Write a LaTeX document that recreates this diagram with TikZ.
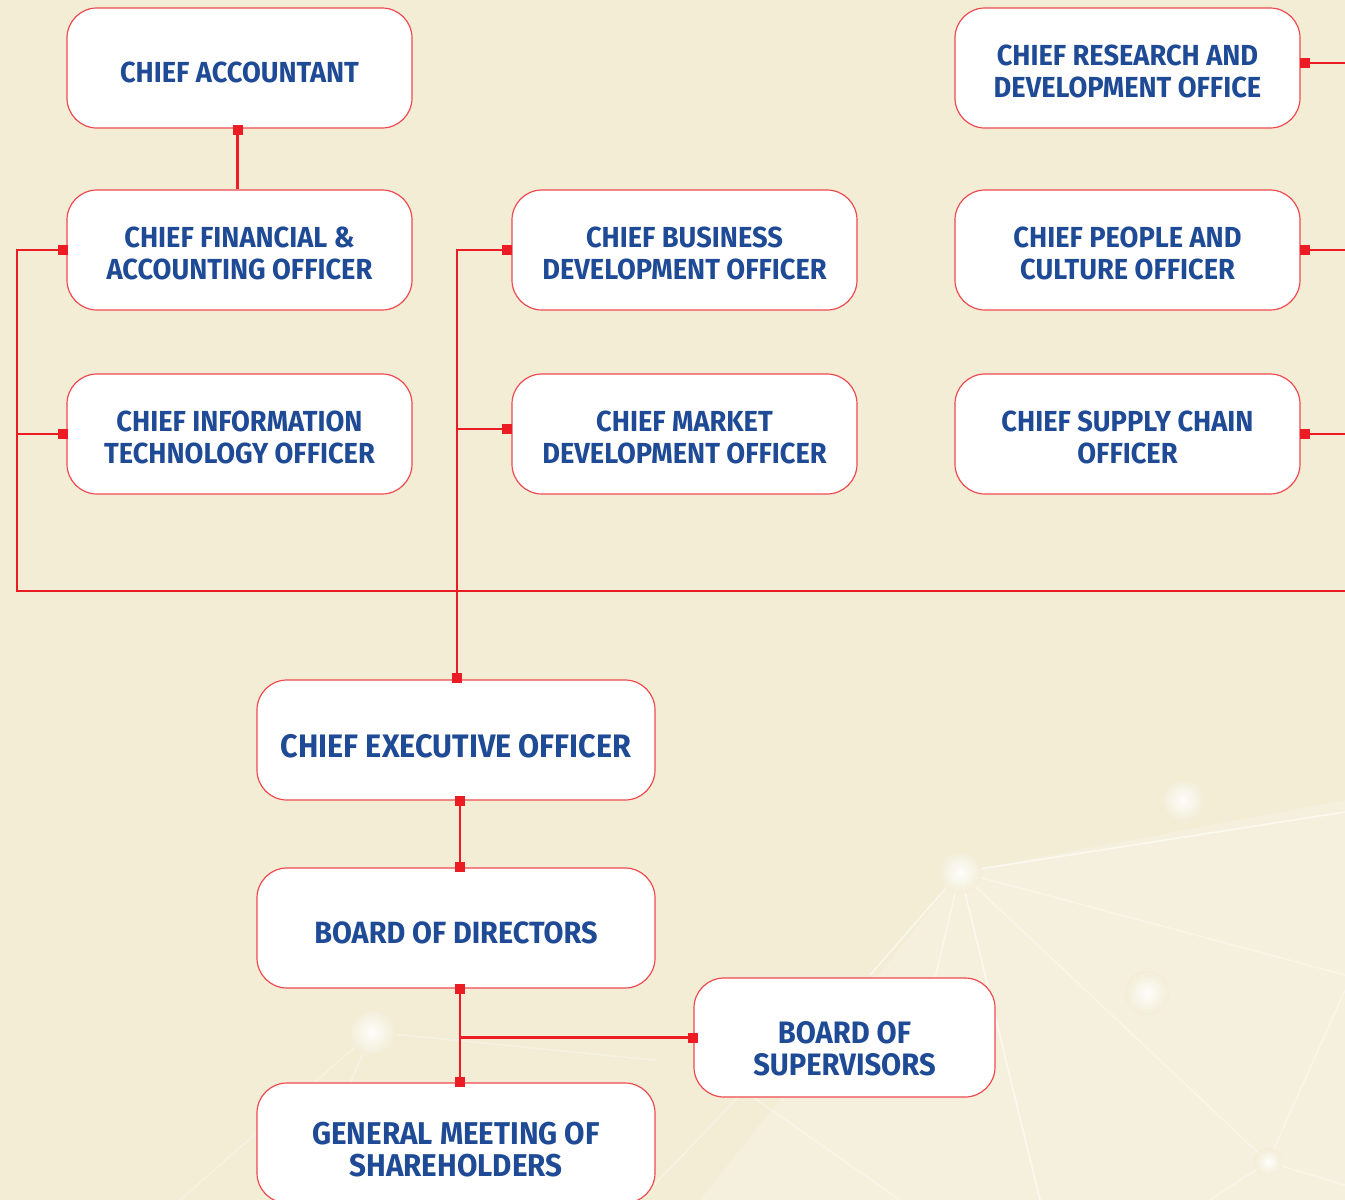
\documentclass[tikz,border=0pt]{standalone}
\usepackage{fontspec}
\newfontfamily\lbl{Fira Sans}[FakeStretch=0.94]
\usetikzlibrary{calc}
\definecolor{bg}{HTML}{F3EDD6}
\definecolor{cr}{HTML}{EC1C24}
\definecolor{bord}{HTML}{EE4A50}
\definecolor{tblue}{HTML}{1E4A96}
\tikzset{
  box/.style={draw=bord, line width=1.2pt, fill=white, rounded corners=30pt,
    minimum width=345pt, minimum height=120pt, inner sep=0pt},
  widebox/.style={box, minimum width=398pt},
  lbltxt/.style={inner sep=0pt, align=center, text=tblue, font=\lbl\bfseries},
  conn/.style={draw=cr, line width=2.4pt},
  web/.style={draw=white, line width=1.6pt, opacity=0.55},
  glow/.style={inner color=white, outer color=bg, opacity=0.9}
}
% #1 box options, #2 name, #3 centre, #4 font size, #5 text shift down, #6 text
\newcommand\orgbox[6]{%
  \node[#1] (#2) at (#3) {};
  \node[lbltxt, font=\lbl\bfseries\fontsize{#4}{32}\selectfont] (#2-t) at ([yshift=-#5pt]#2.center) {#6};}
\newcommand\port[1]{\fill[cr] ($(#1)+(-5,-5)$) rectangle +(10,10);}
\begin{document}
\begin{tikzpicture}[x=1pt,y=-1pt]
\useasboundingbox (0,0) rectangle (1345,1200);
\clip (0,0) rectangle (1345,1200);
\fill[bg] (0,0) rectangle (1345,1200);
% faint background network
\fill[white, opacity=0.18] (700,1200) -- (960,872) -- (1345,800) -- (1345,1200) -- cycle;
\draw[web] (960,872) -- (1345,812);
\draw[web, opacity=0.35] (960,872) -- (1345,975);
\draw[web] (960,872) -- (1040,1200);
\draw[web, opacity=0.4] (960,872) -- (930,1000);
\draw[web] (960,872) -- (870,975);
\draw[web, opacity=0.35] (960,872) -- (1268,1162);
\draw[web, opacity=0.35] (1268,1162) -- (1345,990);
\draw[web, opacity=0.35] (1268,1162) -- (1210,1200);
\draw[web, opacity=0.35] (1268,1162) -- (1345,1185);
\draw[web, opacity=0.3] (740,1095) -- (640,1200);
\draw[web, opacity=0.3] (372,1032) -- (655,1060);
\draw[web, opacity=0.3] (372,1032) -- (300,1200);
\draw[web, opacity=0.3] (372,1032) -- (180,1200);
\draw[web, opacity=0.3] (700,1060) -- (900,1200);
\shade[glow] (960,872) circle (22);
\shade[glow] (1183,800) circle (22);
\shade[glow] (1147,993) circle (22);
\shade[glow] (372,1032) circle (24);
\shade[glow] (1268,1162) circle (14);

% boxes
\orgbox{box}{ca}{239.5,68}{29}{4}{CHIEF ACCOUNTANT}
\orgbox{box}{cfo}{239.5,250}{29}{3.5}{CHIEF FINANCIAL \&\\ACCOUNTING OFFICER}
\orgbox{box}{cito}{239.5,434}{29}{3.5}{CHIEF INFORMATION\\TECHNOLOGY OFFICER}
\orgbox{box}{cbdo}{684.5,250}{29}{3.5}{CHIEF BUSINESS\\DEVELOPMENT OFFICER}
\orgbox{box}{cmdo}{684.5,434}{29}{3.5}{CHIEF MARKET\\DEVELOPMENT OFFICER}
\orgbox{box}{crdo}{1127.5,68}{29}{3.5}{CHIEF RESEARCH AND\\DEVELOPMENT OFFICE}
\orgbox{box}{cpco}{1127.5,250}{29}{3.5}{CHIEF PEOPLE AND\\CULTURE OFFICER}
\orgbox{box}{csco}{1127.5,434}{29}{3.5}{CHIEF SUPPLY CHAIN\\OFFICER}
\orgbox{widebox}{ceo}{456,740}{32.5}{6.5}{CHIEF EXECUTIVE OFFICER}
\orgbox{widebox}{bod}{456,928}{30.7}{4.5}{BOARD OF DIRECTORS}
\orgbox{box, minimum width=301pt, minimum height=119pt}{bos}{844.5,1037.5}{31}{11}{BOARD OF\\SUPERVISORS}
\orgbox{widebox}{gms}{456,1143}{31.5}{7}{GENERAL MEETING OF\\SHAREHOLDERS}

% bus coordinates
\coordinate (busL) at (17,591);
\coordinate (busR) at (1345,591);
\coordinate (edge) at (1345,0);
\coordinate (bodS) at ([xshift=4pt]bod.south);

% connectors
\draw[conn] ([xshift=-2pt]ca.south) -- ([xshift=-2pt]cfo.north);
\port{[xshift=-2pt,yshift=-1pt]ca.south}
\draw[conn] (cfo.west) -| (busL) -- (busR);
\draw[conn] (cito.west) -- (cito.west -| busL);
\port{[xshift=-3pt]cfo.west}
\port{[xshift=-3pt]cito.west}

\draw[conn] (cbdo.west) -| ([xshift=1pt]ceo.north);
\draw[conn] ([yshift=5pt]cmdo.west) -- ([yshift=5pt]cmdo.west -| ceo.north);
\port{[xshift=-4pt]cbdo.west}
\port{[xshift=-4pt,yshift=5pt]cmdo.west}
\port{[xshift=1pt,yshift=1pt]ceo.north}

\draw[conn] ([yshift=5pt]crdo.east) -- ([yshift=5pt]crdo.east -| edge);
\draw[conn] (cpco.east) -- (cpco.east -| edge);
\draw[conn] (csco.east) -- (csco.east -| edge);
\port{[xshift=4pt,yshift=5pt]crdo.east}
\port{[xshift=4pt]cpco.east}
\port{[xshift=4pt]csco.east}

\draw[conn] ([xshift=4pt]ceo.south) -- ([xshift=4pt]bod.north);
\port{[xshift=4pt]ceo.south}
\port{[xshift=4pt]bod.north}

\draw[conn] (bodS) -- ([xshift=4pt]gms.north);
\draw[conn] (bos.west) -- (bos.west -| bodS);
\port{bodS}
\port{[xshift=4pt]gms.north}
\port{bos.west}
\end{tikzpicture}
\end{document}
